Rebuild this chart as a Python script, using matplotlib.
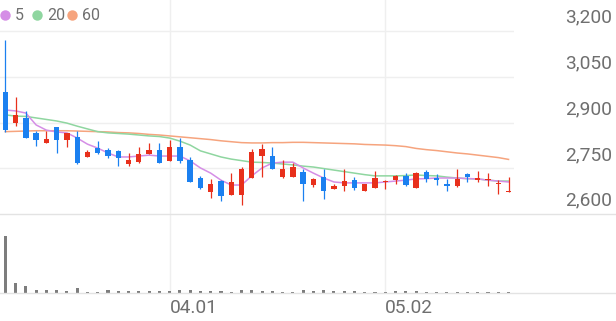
import matplotlib
matplotlib.use("Agg")
import matplotlib.pyplot as plt
from matplotlib.lines import Line2D
import numpy as np

# ---------------- data ----------------
opens  = [3000, 2897, 2916, 2865, 2832, 2884, 2843, 2853, 2788, 2815,
          2810, 2807, 2763, 2771, 2797, 2810, 2774, 2821, 2777, 2717,
          2671, 2709, 2662, 2662, 2717, 2791, 2790, 2720, 2722, 2738,
          2695, 2720, 2681, 2693, 2711, 2675, 2684, 2704, 2711, 2724,
          2684, 2737, 2717, 2700, 2692, 2730, 2713, 2711, 2700, 2672]
closes = [2875, 2925, 2850, 2843, 2845, 2843, 2865, 2766, 2804, 2799,
          2790, 2782, 2777, 2796, 2810, 2766, 2819, 2774, 2706, 2684,
          2698, 2660, 2706, 2746, 2804, 2813, 2747, 2747, 2753, 2697,
          2715, 2676, 2693, 2708, 2684, 2698, 2717, 2708, 2724, 2695,
          2735, 2714, 2711, 2692, 2714, 2722, 2717, 2714, 2702, 2676]
highs  = [3170, 2983, 2938, 2873, 2873, 2886, 2867, 2872, 2810, 2839,
          2815, 2810, 2799, 2819, 2832, 2832, 2841, 2848, 2786, 2725,
          2715, 2711, 2733, 2755, 2812, 2828, 2819, 2777, 2768, 2746,
          2719, 2746, 2700, 2746, 2720, 2700, 2742, 2711, 2728, 2733,
          2737, 2744, 2731, 2714, 2746, 2735, 2741, 2733, 2711, 2722]
lows   = [2869, 2888, 2848, 2824, 2832, 2801, 2821, 2764, 2788, 2797,
          2783, 2758, 2758, 2766, 2797, 2766, 2774, 2767, 2706, 2681,
          2653, 2644, 2662, 2629, 2717, 2722, 2747, 2717, 2722, 2641,
          2689, 2648, 2681, 2676, 2679, 2675, 2684, 2681, 2697, 2693,
          2684, 2706, 2695, 2676, 2687, 2704, 2706, 2693, 2665, 2671]
volumes = [173, 30, 20, 8, 8, 9, 7, 16, 4, 4,
           8, 7, 7, 5, 7, 7, 7, 8, 10, 6,
           6, 6, 3, 8, 8, 6, 5, 3, 2, 8,
           5, 10, 6, 5, 6, 4, 3, 3, 5, 5,
           6, 3, 3, 3, 4, 4, 4, 4, 3, 3]
ma5  = [2941, 2938, 2931, 2892, 2875, 2869, 2866, 2849, 2829, 2816,
        2800, 2787, 2787, 2790, 2793, 2790, 2790, 2790, 2774, 2751,
        2734, 2711, 2695, 2695, 2725, 2751, 2767, 2770, 2770, 2751,
        2734, 2718, 2705, 2702, 2702, 2702, 2702, 2705, 2708, 2711,
        2715, 2716, 2718, 2718, 2718, 2716, 2715, 2711, 2708, 2705]
ma20 = [2925, 2921, 2920, 2915, 2910, 2905, 2898, 2888, 2879, 2870,
        2866, 2864, 2862, 2859, 2856, 2854, 2849, 2839, 2826, 2807,
        2797, 2787, 2780, 2775, 2770, 2769, 2767, 2764, 2761, 2757,
        2754, 2749, 2744, 2739, 2734, 2729, 2725, 2725, 2725, 2726,
        2728, 2726, 2725, 2721, 2718, 2716, 2715, 2711, 2708, 2708]
ma60 = [2870, 2871, 2872, 2873, 2873, 2873, 2873, 2872, 2871, 2870,
        2869, 2867, 2866, 2864, 2861, 2859, 2856, 2853, 2850, 2847,
        2844, 2840, 2837, 2834, 2833, 2833, 2834, 2834, 2835, 2835,
        2834, 2833, 2832, 2831, 2830, 2828, 2827, 2826, 2824, 2821,
        2815, 2811, 2808, 2804, 2800, 2797, 2793, 2789, 2785, 2779]
price_ticks = [2600, 2750, 2900, 3050, 3200]
date_ticks = [16, 37]
date_labels = ["04.01", "05.02"]
ma_names = ["5", "20", "60"]

# ---------------- style ----------------
RED = "#e8301c"
BLUE = "#1b80f0"
C_MA5 = "#d58ee6"
C_MA20 = "#8fd6a0"
C_MA60 = "#f6a47e"
GRID = "#efefef"
BORDER = "#e3e3e3"
TXT = "#6f6f6f"
FONT = "Roboto"

W, H = 616, 321
fig = plt.figure(figsize=(W / 100, H / 100), dpi=100)

right_px = 514
ax = fig.add_axes([0, (H - 214) / H, right_px / W, 214 / H])
axv = fig.add_axes([0, (H - 293) / H, right_px / W, (293 - 214) / H])

n = len(opens)
x = np.arange(n)
xl = (-0.516, (right_px - 5.3) / 10.27)

for a in (ax, axv):
    a.set_xlim(*xl)
    for s in a.spines.values():
        s.set_visible(False)
    a.set_xticks([])
    a.set_yticks([])
    a.patch.set_alpha(0)
    for d in date_ticks:
        a.axvline(d, color=GRID, lw=1.0, zorder=0)

ax.set_ylim(2600, 2600 + 214 * 600 / 183)
for t in price_ticks[1:]:
    ax.axhline(t, color=GRID, lw=1.0, zorder=0)

# candles
for i in range(n):
    o, c, h, l = opens[i], closes[i], highs[i], lows[i]
    col = RED if c >= o else BLUE
    ax.vlines(i, l, h, color=col, lw=0.9, zorder=2)
    body = max(abs(c - o), 3)
    ax.bar(i, body, bottom=min(o, c), width=0.52, color=col, edgecolor="none", zorder=3)

ax.plot(x, ma60, color=C_MA60, lw=1.1, zorder=1)
ax.plot(x, ma20, color=C_MA20, lw=1.1, zorder=1)
ax.plot(x, ma5, color=C_MA5, lw=1.1, zorder=1)

# volume
axv.bar(x, volumes, width=0.3, color="#7d7d7d", edgecolor="none", zorder=2)
axv.set_ylim(0, 173 * 79 / 57)

# full-width border lines
for ypx in (214, 293):
    fig.add_artist(Line2D([0, 1], [(H - ypx) / H] * 2, color=BORDER, lw=1.0))

# price labels
for t in price_ticks:
    ax.annotate(f"{t:,}", xy=(612 / W, t), xycoords=("figure fraction", "data"),
                xytext=(0, 9.5), textcoords="offset points",
                ha="right", va="center", fontsize=13.8, color=TXT, family=FONT)

# date labels
for d, lab in zip(date_ticks, date_labels):
    axv.annotate(lab, xy=(d, 0), xycoords=("data", "axes fraction"),
                 xytext=(0, -11), textcoords="offset points",
                 ha="left", va="center", fontsize=13.8, color=TXT, family=FONT)

# legend
leg_x = [5, 37, 72]
for lx, name, col in zip(leg_x, ma_names, [C_MA5, C_MA20, C_MA60]):
    fig.add_artist(Line2D([lx / W], [(H - 15) / H], marker="o", markersize=7.5,
                          color=col, markeredgecolor="none", linestyle="none"))
    fig.text((lx + 10) / W, (H - 15) / H, name, ha="left", va="center",
             fontsize=11.5, color=TXT, family=FONT)

fig.savefig("out.png", dpi=100)
